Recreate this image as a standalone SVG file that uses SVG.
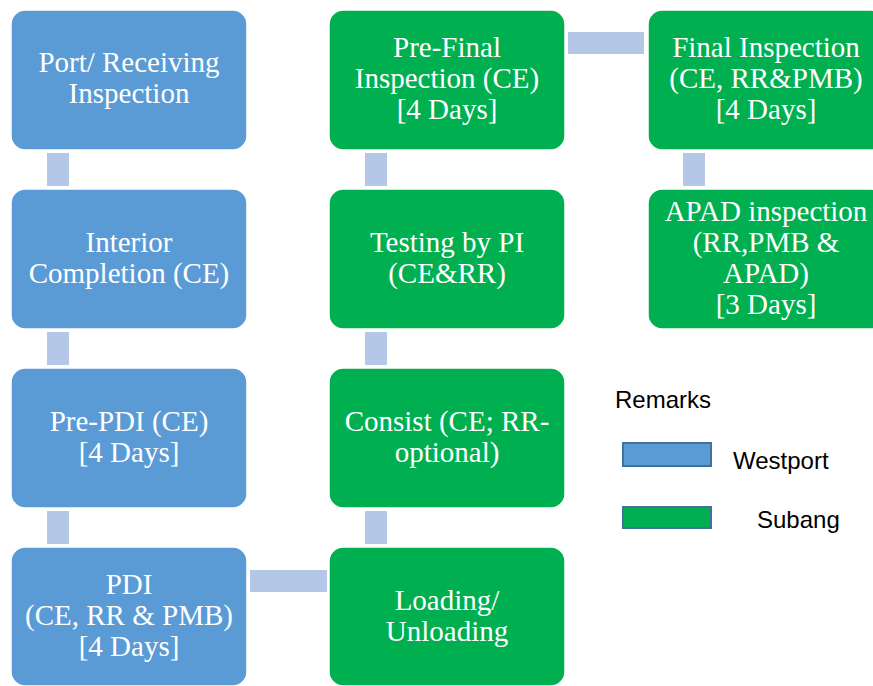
<svg xmlns="http://www.w3.org/2000/svg" width="873" height="686" viewBox="0 0 873 686">
<style>
.w{fill:#5B9BD5;stroke:#FFFFFF;stroke-width:1.5}
.s{fill:#00B050;stroke:#FFFFFF;stroke-width:1.5}
.c{fill:#B4C7E7}
.t{font-size:29px;fill:#FFFFFF;text-anchor:middle}
.l{font-size:24px;fill:#000000}
.lw{fill:#5B9BD5;stroke:#41719C;stroke-width:2}
.ls{fill:#00B050;stroke:#41719C;stroke-width:2}
</style>
<rect width="873" height="686" fill="#FFFFFF"/>
<g id="connectors">
<rect class="c" x="47" y="153" width="22" height="33"/>
<rect class="c" x="47" y="332" width="22" height="33"/>
<rect class="c" x="47" y="511" width="22" height="33"/>
<rect class="c" x="250" y="570" width="77" height="22"/>
<rect class="c" x="365" y="511" width="22" height="33"/>
<rect class="c" x="365" y="332" width="22" height="33"/>
<rect class="c" x="365" y="153" width="22" height="33"/>
<rect class="c" x="568" y="32" width="76" height="22"/>
<rect class="c" x="683" y="153" width="22" height="33"/>
</g>
<g font-family="Liberation Serif">
<g id="port">
<rect class="w" x="11" y="10" width="236" height="140" rx="14"/>
<text class="t" font-family="Liberation Serif"><tspan x="129" y="72">Port/ Receiving</tspan><tspan x="129" y="103">Inspection</tspan></text>
</g>
<g id="interior">
<rect class="w" x="11" y="189" width="236" height="140" rx="14"/>
<text class="t" font-family="Liberation Serif"><tspan x="129" y="252">Interior</tspan><tspan x="129" y="283">Completion (CE)</tspan></text>
</g>
<g id="prepdi">
<rect class="w" x="11" y="368" width="236" height="140" rx="14"/>
<text class="t" font-family="Liberation Serif"><tspan x="129" y="431">Pre-PDI (CE)</tspan><tspan x="129" y="462">[4 Days]</tspan></text>
</g>
<g id="pdi">
<rect class="w" x="11" y="547" width="236" height="139" rx="14"/>
<text class="t" font-family="Liberation Serif"><tspan x="129" y="594">PDI</tspan><tspan x="129" y="625">(CE, RR &amp; PMB)</tspan><tspan x="129" y="656">[4 Days]</tspan></text>
</g>
<g id="loading">
<rect class="s" x="329" y="547" width="236" height="139" rx="14"/>
<text class="t" font-family="Liberation Serif"><tspan x="447" y="610">Loading/</tspan><tspan x="447" y="641">Unloading</tspan></text>
</g>
<g id="consist">
<rect class="s" x="329" y="368" width="236" height="140" rx="14"/>
<text class="t" font-family="Liberation Serif"><tspan x="447" y="431">Consist (CE; RR-</tspan><tspan x="447" y="462">optional)</tspan></text>
</g>
<g id="testing">
<rect class="s" x="329" y="189" width="236" height="140" rx="14"/>
<text class="t" font-family="Liberation Serif"><tspan x="447" y="252">Testing by PI</tspan><tspan x="447" y="283">(CE&amp;RR)</tspan></text>
</g>
<g id="prefinal">
<rect class="s" x="329" y="10" width="236" height="140" rx="14"/>
<text class="t" font-family="Liberation Serif"><tspan x="447" y="57">Pre-Final</tspan><tspan x="447" y="88">Inspection (CE)</tspan><tspan x="447" y="119">[4 Days]</tspan></text>
</g>
<g id="final">
<rect class="s" x="648" y="10" width="236" height="140" rx="14"/>
<text class="t" font-family="Liberation Serif"><tspan x="766" y="57">Final Inspection</tspan><tspan x="766" y="88">(CE, RR&amp;PMB)</tspan><tspan x="766" y="119">[4 Days]</tspan></text>
</g>
<g id="apad">
<rect class="s" x="648" y="189" width="236" height="140" rx="14"/>
<text class="t" font-family="Liberation Serif"><tspan x="766" y="221">APAD inspection</tspan><tspan x="766" y="252">(RR,PMB &amp;</tspan><tspan x="766" y="283">APAD)</tspan><tspan x="766" y="314">[3 Days]</tspan></text>
</g>
</g>
<g id="legend" font-family="Liberation Sans">
<text class="l" x="615" y="408">Remarks</text>
<rect class="lw" x="623" y="443" width="88" height="23"/>
<text class="l" x="733" y="469">Westport</text>
<rect class="ls" x="623" y="507" width="88" height="21"/>
<text class="l" x="757" y="528">Subang</text>
</g>
</svg>
